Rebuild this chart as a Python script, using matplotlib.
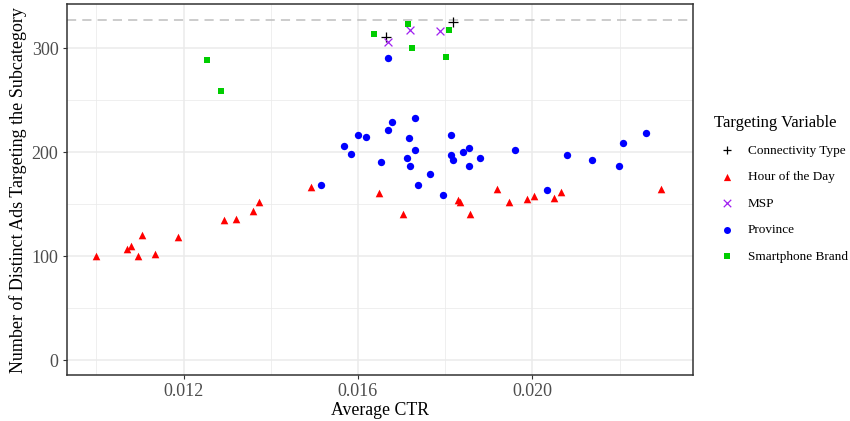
import numpy as np
import matplotlib
matplotlib.use('Agg')
import matplotlib.pyplot as plt
from matplotlib.ticker import MultipleLocator

plt.rcParams['font.family'] = ['Liberation Serif', 'DejaVu Serif']

# values
conn_x = [0.01664, 0.01818]
conn_y = [311, 325]

hour_x = [0.01000, 0.01071, 0.01079, 0.01096, 0.01104, 0.01134, 0.01187,
          0.01292, 0.01321, 0.01359, 0.01374, 0.01493, 0.01648, 0.01704,
          0.01829, 0.01835, 0.01857, 0.01920, 0.01947, 0.01988, 0.02004,
          0.02049, 0.02066, 0.02295]
hour_y = [99.7, 106.8, 109.7, 99.7, 120.7, 102, 118.0,
          134.6, 135.8, 143.6, 152.0, 166.8, 160.7, 140.1,
          153.6, 151.7, 141.0, 164.6, 151.7, 154.6, 157.8,
          155.6, 161.7, 164.6]

msp_x = [0.01668, 0.01720, 0.01788]
msp_y = [306.6, 317.5, 316.6]

prov_x = [0.01670, 0.01567, 0.01583, 0.01601, 0.01618, 0.01652, 0.01670,
          0.01678, 0.01713, 0.01716, 0.01720, 0.01732, 0.01730, 0.01737,
          0.01766, 0.01794, 0.01813, 0.01813, 0.01817, 0.01841, 0.01854,
          0.01854, 0.01881, 0.01960, 0.02033, 0.02080, 0.02137, 0.02198,
          0.02209, 0.02260, 0.01515]
prov_y = [290.7, 205.9, 198.8, 216.8, 214.9, 190.7, 221.7,
          228.8, 194.8, 213.6, 186.8, 202.6, 232.6, 168.1,
          178.7, 158.8, 216.8, 197.8, 192.6, 200.7, 203.9,
          186.8, 194.9, 201.9, 163.9, 197.8, 192.9, 186.8,
          208.8, 218.8, 168.1]

brand_x = [0.01254, 0.01285, 0.01637, 0.01715, 0.01724, 0.01802, 0.01809]
brand_y = [288.5, 259.4, 313.6, 323.3, 300.4, 291.7, 317.8]

max_ads = 327

fig = plt.figure(figsize=(8.5, 4.21), dpi=100)
ax = fig.add_axes([0.0785, 0.109, 0.737, 0.881])

ax.axhline(max_ads, color='#BEBEBE', linestyle=(0, (6, 4)), linewidth=1.1, zorder=1)

ax.scatter(conn_x, conn_y, marker='+', s=45, color='black', linewidths=0.9, label='Connectivity Type', zorder=3)
ax.scatter(hour_x, hour_y, marker='^', s=30, color='#FF0000', linewidths=0, label='Hour of the Day', zorder=3)
ax.scatter(msp_x, msp_y, marker='x', s=32, color='#A020F0', linewidths=0.9, label='MSP', zorder=3)
ax.scatter(prov_x, prov_y, marker='o', s=28, color='#0000FF', linewidths=0, label='Province', zorder=3)
ax.scatter(brand_x, brand_y, marker='s', s=22, color='#00CD00', linewidths=0, label='Smartphone Brand', zorder=3)

ax.set_xlim(0.00932, 0.02369)
ax.set_ylim(-14.5, 342.5)
ax.xaxis.set_major_locator(MultipleLocator(0.004))
ax.xaxis.set_minor_locator(MultipleLocator(0.002))
ax.yaxis.set_major_locator(MultipleLocator(100))
ax.yaxis.set_minor_locator(MultipleLocator(50))
ax.set_xticks([0.012, 0.016, 0.020])
ax.set_xticklabels(['0.012', '0.016', '0.020'])

ax.grid(which='major', color='#EBEBEB', linewidth=1.1, zorder=0)
ax.grid(which='minor', color='#EBEBEB', linewidth=0.55, zorder=0)
ax.set_axisbelow(True)
ax.tick_params(which='minor', length=0)
ax.tick_params(which='major', length=3, color='#333333', width=0.8,
               labelsize=13, labelcolor='#4D4D4D', pad=3)
for sp in ax.spines.values():
    sp.set_color('#333333')
    sp.set_linewidth(1.1)

ax.set_xlabel('Average CTR', fontsize=12.8, labelpad=1)
ax.set_ylabel('Number of Distinct Ads Targeting the Subcategory', fontsize=13, labelpad=3)

leg = ax.legend(loc='upper left', bbox_to_anchor=(0.832, 0.743), bbox_transform=fig.transFigure,
                frameon=False, title='Targeting Variable', fontsize=9.5, title_fontsize=12,
                handlelength=2.0, handletextpad=0.6, labelspacing=1.08,
                markerscale=0.95, borderpad=0)
leg._legend_box.align = 'left'
leg._legend_box.sep = 10.0

fig.savefig('out.png', dpi=100)
